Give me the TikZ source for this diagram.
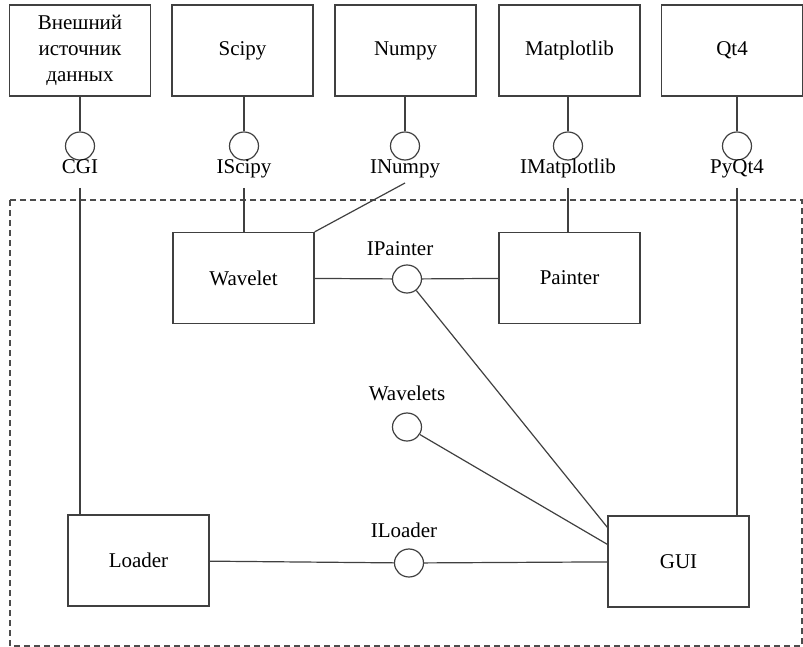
\documentclass[tikz,border=0pt]{standalone}
\usepackage{fontspec}
\setmainfont{Liberation Serif}
\usetikzlibrary{shapes.geometric, positioning}

\begin{document}
\begin{tikzpicture}[x=1pt, y=-1pt, line width=1.2pt,
    font=\fontsize{21}{26}\selectfont,
    comp/.style={draw=black!75, minimum width=141pt, minimum height=91pt, align=center, inner sep=0pt},
    iface/.style={draw=black!75, ellipse, minimum width=29pt, minimum height=28pt, inner sep=0pt},
    link/.style={draw=black!75}]
\useasboundingbox (0,0) rectangle (803,647);

% system boundary
\draw[black!70, dash pattern=on 6pt off 4pt] (10,200) rectangle (802,646);

% outer components with their interfaces
\foreach \n/\bx/\cx/\name/\txt in {ext/80/80/CGI/{Внешний\\источник\\данных}, scipy/242.5/244/IScipy/Scipy, numpy/405.5/405/INumpy/Numpy, mpl/569.5/568/IMatplotlib/Matplotlib, qt/732/737/PyQt4/Qt4} {
    \node[comp] (\n) at (\bx,50.5) {\txt};
    \node[iface] (i\n) at (\cx,146) {};
    \node[anchor=base] (l\n) at (\cx,174) {\name};
    \draw[link] (i\n) -- (i\n |- \n.south);
}

% inner components
\node[comp] (wavelet) at (243.5,278) {Wavelet};
\node[comp] (painter) at (569.5,278) {Painter};
\node[comp] (loader) at (138.5,560.5) {Loader};
\node[comp] (gui) at (678.5,561.5) {GUI};

\node[iface] (ipainter) at (407,279) {};
\node[anchor=base] (lipainter) at (400,255) {IPainter};
\node[iface] (iwavelets) at (407,427) {};
\node[anchor=base] (liwavelets) at (407,400) {Wavelets};
\node[iface] (iloader) at (409,563) {};
\node[anchor=base] (liloader) at (404,537) {ILoader};

\draw[link] (wavelet) -- (ipainter) -- (painter);
\draw[link] (ipainter) -- ([yshift=-12pt]gui.north west);
\draw[link] (iwavelets) -- ([yshift=-29pt]gui.north west);
\draw[link] (loader) -- (iloader) -- (gui);

% required interfaces
\draw[link] ([yshift=-14pt]lext.base) -- (loader.north -| lext);
\draw[link] ([yshift=-14pt]lscipy.base) -- (wavelet.north -| lscipy);
\draw[link] ([yshift=-9pt]lnumpy.base) -- (wavelet.north east);
\draw[link] ([yshift=-14pt]lmpl.base) -- (painter.north -| lmpl);
\draw[link] ([yshift=-14pt]lqt.base) -- (gui.north -| lqt);
\end{tikzpicture}
\end{document}
